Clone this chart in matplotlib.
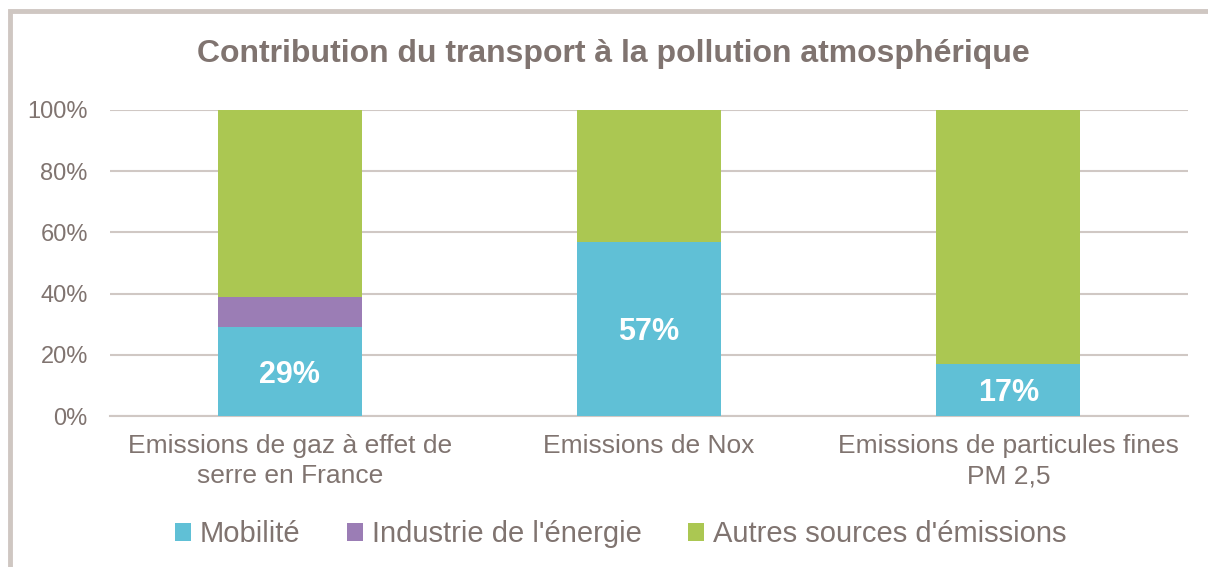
import numpy as np
import matplotlib
matplotlib.use("Agg")
import matplotlib.pyplot as plt
from matplotlib.patches import Rectangle

categories = ["Emissions de gaz à effet de\nserre en France",
              "Emissions de Nox",
              "Emissions de particules fines\nPM 2,5"]
mobilite = [29, 57, 17]
industrie = [10, 0, 0]
autres = [61, 43, 83]
series_names = ["Mobilité", "Industrie de l'énergie", "Autres sources d'émissions"]
labels_mobilite = ["29%", "57%", "17%"]

colors = ["#60C0D6", "#9B7DB5", "#ABC752"]
text_col = "#807470"
grid_col = "#D0C8C4"

plt.rcParams['font.family'] = ['Liberation Sans', 'DejaVu Sans']

fig = plt.figure(figsize=(12.08, 5.67), dpi=100)
ax = fig.add_axes([0.0911, 0.2663, 0.8923, 0.5397])

x = np.arange(len(categories))
w = 0.4
b1 = ax.bar(x, mobilite, w, color=colors[0], label=series_names[0], zorder=3)
b2 = ax.bar(x, industrie, w, bottom=mobilite, color=colors[1], label=series_names[1], zorder=3)
bottom3 = np.array(mobilite) + np.array(industrie)
b3 = ax.bar(x, autres, w, bottom=bottom3, color=colors[2], label=series_names[2], zorder=3)

# data labels in the middle of the mobility segment (slightly below centre)
for xi, v, lab in zip(x, mobilite, labels_mobilite):
    ax.text(xi, v / 2, lab, ha='center', va='center', color='white',
            fontsize=22, fontweight='bold', zorder=4,
            transform=ax.transData)
for t in ax.texts:
    t.set_position((t.get_position()[0], t.get_position()[1] - 1))

ax.set_xlim(-0.5, 2.5)
ax.set_ylim(0, 100)
ax.set_yticks([0, 20, 40, 60, 80, 100])
ax.set_yticklabels(["0%", "20%", "40%", "60%", "80%", "100%"])
ax.set_xticks(x)
ax.set_xticklabels(categories, linespacing=1.33)
ax.tick_params(axis='both', length=0, colors=text_col, labelsize=17)
ax.tick_params(axis='x', pad=13, labelsize=19)
ax.tick_params(axis='y', pad=16)
for lab in ax.get_xticklabels() + ax.get_yticklabels():
    lab.set_color(text_col)

ax.grid(axis='y', color=grid_col, linewidth=1.5, zorder=0)
for s in ['top', 'right', 'left']:
    ax.spines[s].set_visible(False)
ax.spines['bottom'].set_color(grid_col)
ax.spines['bottom'].set_linewidth(1.5)

fig.text(0.508, 1 - 62 / 567, "Contribution du transport à la pollution atmosphérique",
         ha='center', va='baseline', fontsize=23, fontweight='bold', color=text_col)

leg = fig.legend(handles=[b1, b2, b3], labels=series_names, loc='center',
                 bbox_to_anchor=(0.5137, 0.058), ncol=3, frameon=False,
                 fontsize=21, handlelength=0.55, handleheight=0.55,
                 handletextpad=0.3, columnspacing=1.6)
for t in leg.get_texts():
    t.set_color(text_col)

# chart frame
frame = Rectangle((10 / 1208, -0.1), 1.2, 1 - 11 / 567 + 0.1, transform=fig.transFigure,
                  fill=False, edgecolor="#CFC7C2", linewidth=3.5)
fig.patches.append(frame)

fig.savefig("out.png", dpi=100)
